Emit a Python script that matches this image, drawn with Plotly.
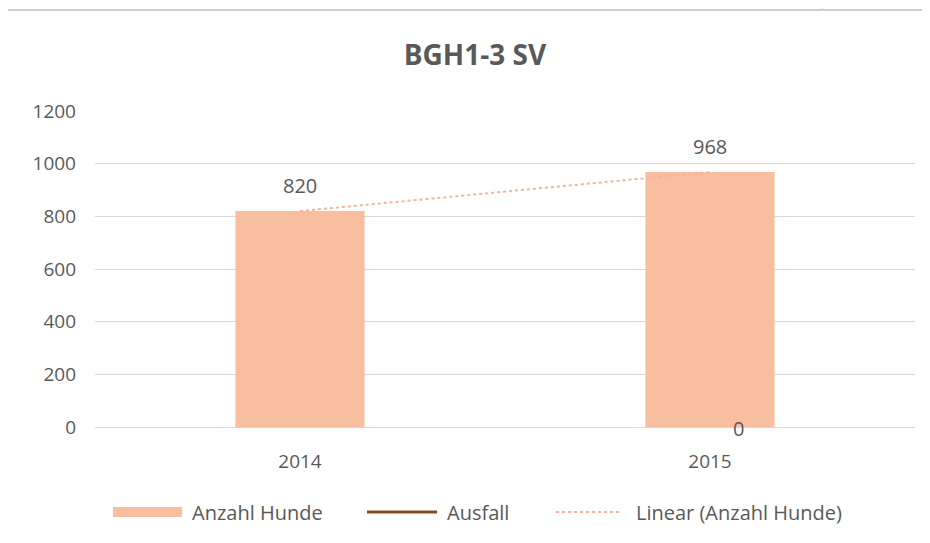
import numpy as np
import plotly.graph_objects as go

years = ["2014", "2015"]
anzahl_hunde = [820, 968]
ausfall = [None, 0]
y_ticks = [0, 200, 400, 600, 800, 1000, 1200]
series_names = ["Anzahl Hunde", "Ausfall", "Linear (Anzahl Hunde)"]

OFF = 8  # page body margin
W, H = 930 - OFF, 543 - OFF
L, R, T, B = 95 - OFF, 15, 111 - OFF, 116
pw, ph = W - L - R, H - T - B

def px_x(p):
    return (p - OFF - L) / pw

def px_y(p):
    return (H - B - (p - OFF)) / ph

grey = "#595959"
bar_color = "#F7BEA0"
line_color = "#8A4A1F"
trend_color = "#F4B49A"
font = "Open Sans"

pos = list(range(len(years)))
coef = np.polyfit(pos, anzahl_hunde, 1)
trend = [float(v) for v in np.polyval(coef, pos)]

fig = go.Figure()
fig.add_trace(go.Bar(x=pos, y=anzahl_hunde, name=series_names[0],
                     marker=dict(color=bar_color, line=dict(width=0)), width=0.315))
fig.add_trace(go.Scatter(x=pos, y=ausfall, name=series_names[1], mode="lines",
                         line=dict(color=line_color, width=2.5)))
fig.add_trace(go.Scatter(x=pos, y=trend, name=series_names[2], mode="lines",
                         line=dict(color=trend_color, width=2, dash="dot")))

annotations = []
for p, v in zip(pos, anzahl_hunde):
    annotations.append(dict(x=p, y=v, text=str(v), showarrow=False, yanchor="middle",
                            yshift=26, font=dict(family=font, size=20, color=grey)))
for p, v in zip(pos, ausfall):
    if v is not None:
        annotations.append(dict(x=p, y=v, text=str(v), showarrow=False, xanchor="left",
                                xshift=21, yshift=-1, font=dict(family=font, size=20, color=grey)))

shapes = [
    dict(type="line", xref="paper", yref="paper", x0=px_x(OFF), x1=px_x(930), y0=px_y(10), y1=px_y(10),
         line=dict(color="#cfcfcf", width=2)),
    dict(type="line", xref="paper", yref="paper", x0=px_x(822), x1=px_x(822), y0=px_y(OFF), y1=px_y(10),
         line=dict(color="#d6d6d6", width=1)),
]

# legend (drawn manually to match the wide Excel legend keys)
leg_y = px_y(512)
shapes += [
    dict(type="rect", xref="paper", yref="paper", x0=px_x(113), x1=px_x(182),
         y0=px_y(517), y1=px_y(507), fillcolor=bar_color, line=dict(width=0)),
    dict(type="line", xref="paper", yref="paper", x0=px_x(367), x1=px_x(437), y0=leg_y, y1=leg_y,
         line=dict(color=line_color, width=3)),
    dict(type="line", xref="paper", yref="paper", x0=px_x(556), x1=px_x(622), y0=leg_y, y1=leg_y,
         line=dict(color=trend_color, width=2, dash="dot")),
]
for name, xp in zip(series_names, [190, 445, 634]):
    annotations.append(dict(xref="paper", yref="paper", x=px_x(xp), y=leg_y, text=name,
                            showarrow=False, xanchor="left", yanchor="middle",
                            font=dict(family=font, size=20, color=grey)))

fig.update_layout(
    width=W, height=H,
    margin=dict(l=L, r=R, t=T, b=B, autoexpand=False),
    paper_bgcolor="white", plot_bgcolor="white",
    title=dict(text="<b>BGH1-3 SV</b>", xref="paper", x=px_x(475), xanchor="center",
               yref="container", y=1 - (55 - OFF) / H, yanchor="middle",
               font=dict(family=font, size=28, color=grey)),
    xaxis=dict(range=[-0.5, len(years) - 0.5], tickvals=pos, ticktext=years,
               showgrid=False, zeroline=False, showline=True, linecolor="#d9d9d9", linewidth=1,
               ticks="", tickfont=dict(family=font, size=19, color=grey), ticklabelstandoff=17),
    yaxis=dict(range=[0, 1200], tickvals=y_ticks, showgrid=True, gridcolor="#d9d9d9", gridwidth=1,
               zeroline=False, showline=False, ticks="",
               tickfont=dict(family=font, size=19, color=grey), ticklabelstandoff=18),
    showlegend=False,
    annotations=annotations,
    shapes=shapes,
)

fig.write_html("out.html")
